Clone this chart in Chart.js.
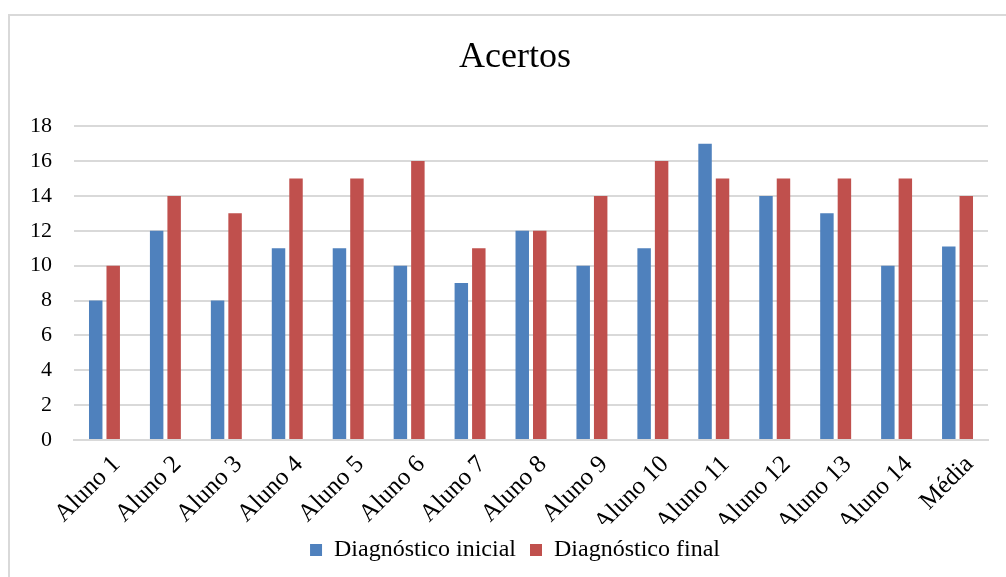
<!DOCTYPE html>
<html>
<head>
<meta charset="utf-8">
<script src="https://cdn.jsdelivr.net/npm/chart.js@4"></script>
<style>
  html, body { margin: 0; padding: 0; background: #fff; overflow: hidden; }
  #wrap { position: relative; width: 1006px; height: 577px; }
  #moldura { position: absolute; left: 8px; top: 14px; width: 1100px; height: 700px; border-left: 2px solid #d9d9d9; border-top: 2px solid #d9d9d9; }
  canvas { position: absolute; left: 0; top: 0; }
</style>
</head>
<body>
<div id="wrap">
  <div id="moldura"></div>
  <canvas id="graficoAcertos" width="1006" height="577"></canvas>
</div>
<script>
// categorias do eixo x
const alunos = ['Aluno 1', 'Aluno 2', 'Aluno 3', 'Aluno 4', 'Aluno 5', 'Aluno 6', 'Aluno 7', 'Aluno 8', 'Aluno 9', 'Aluno 10', 'Aluno 11', 'Aluno 12', 'Aluno 13', 'Aluno 14', 'Média']
// acertos em cada diagnostico
const diagInicial = [8, 12, 8, 11, 11, 10, 9, 12, 10, 11, 17, 14, 13, 10, 11.1]
const diagFinal = [10, 14, 13, 15, 15, 16, 11, 12, 14, 16, 15, 15, 15, 15, 14]
// eixo y
const yMin = 0
const yMax = 18
const yPasso = 2

const serif = "'Liberation Serif', 'Times New Roman', serif"
Chart.defaults.font.family = serif
Chart.defaults.color = '#000'

var ctx = document.getElementById('graficoAcertos').getContext('2d')
var grafico = new Chart(ctx, {
  type: 'bar',
  data: {
    labels: alunos,
    datasets: [{
      label: 'Diagnóstico inicial',
      backgroundColor: '#4F81BD',
      data: diagInicial
    }, {
      label: 'Diagnóstico final',
      backgroundColor: '#C0504D',
      data: diagFinal
    }]
  },
  options: {
    responsive: false,
    animation: false,
    categoryPercentage: 0.574,
    barPercentage: 0.77,
    // margem direita negativa + eixo vazio a direita: titulo e legenda ficam centrados como no original
    layout: { padding: { left: 0, right: -24, top: 0, bottom: 5 } },
    plugins: {
      title: {
        display: true,
        text: 'Acertos',
        color: '#000',
        font: { family: serif, size: 36, weight: 'normal' },
        padding: { top: 36, bottom: 47 }
      },
      legend: {
        position: 'bottom',
        labels: {
          color: '#000',
          font: { family: serif, size: 24 },
          boxWidth: 12,
          boxHeight: 12,
          padding: 14
        }
      },
      tooltip: { enabled: false }
    },
    scales: {
      x: {
        grid: { display: false },
        border: { display: true, color: '#d9d9d9', width: 2 },
        ticks: {
          color: '#000',
          font: { family: serif, size: 25 },
          minRotation: 45,
          maxRotation: 45,
          autoSkip: false,
          padding: 2,
          labelOffset: 12
        },
        afterFit: function (scale) { scale.height = 84 }
      },
      y: {
        min: yMin,
        max: yMax,
        grid: { color: '#d9d9d9', lineWidth: 2, drawTicks: false },
        border: { display: false },
        ticks: {
          stepSize: yPasso,
          color: '#000',
          font: { family: serif, size: 22 },
          padding: 22
        },
        afterFit: function (scale) { scale.width = 74 }
      },
      margemDireita: {
        position: 'right',
        grid: { display: false },
        border: { display: false },
        ticks: { display: false },
        afterFit: function (scale) { scale.width = 42 }
      }
    }
  }
})
</script>
</body>
</html>
